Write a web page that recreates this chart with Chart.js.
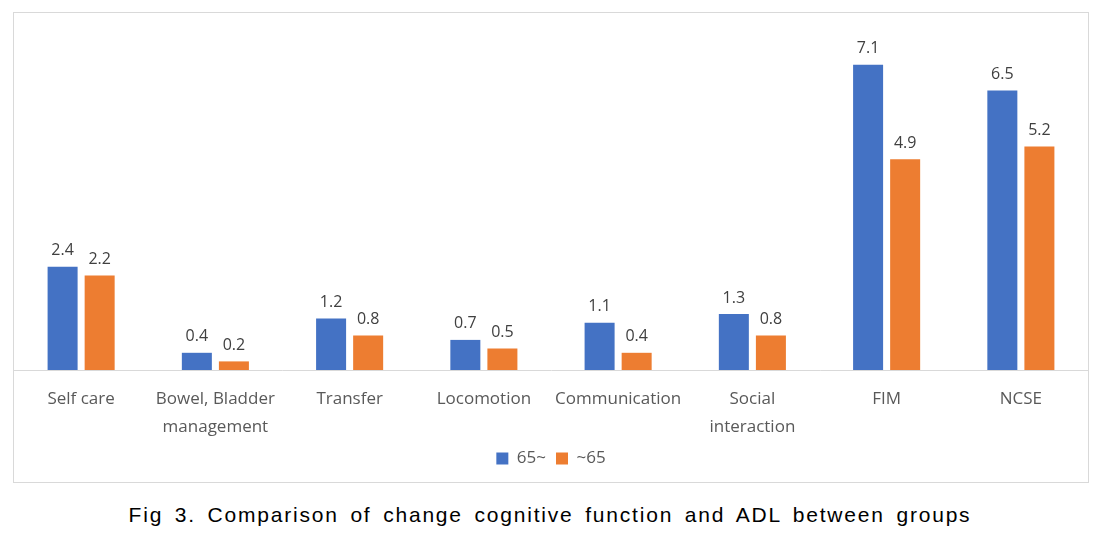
<!DOCTYPE html>
<html>
<head>
<meta charset="utf-8">
<script src="https://cdn.jsdelivr.net/npm/chart.js@4"></script>
<style>
  html, body { margin: 0; padding: 0; background: #fff; }
  body { width: 1100px; height: 542px; position: relative; overflow: hidden; }
  #frame {
    position: absolute; left: 13px; top: 12px; width: 1074px; height: 469px;
    border: 1px solid #d9d9d9;
  }
  #frame canvas { display: block; }
  #caption {
    position: absolute; left: 0; width: 1100px; top: 503px; text-align: center;
    font-family: "Liberation Sans", Arial, sans-serif; font-size: 21px;
    letter-spacing: 1.8px; word-spacing: 4px; color: #000;
  }
</style>
</head>
<body>
<div id="frame"><canvas id="chart" width="1074" height="469"></canvas></div>
<div id="caption">Fig 3. Comparison of change cognitive function and ADL between groups</div>
<script>
  var CATEGORIES = [
    'Self care', ['Bowel, Bladder', 'management'], 'Transfer', 'Locomotion',
    'Communication', ['Social', 'interaction'], 'FIM', 'NCSE'
  ];
  var SERIES_NAMES = ['65~', '~65'];
  var OVER_65 = [2.4, 0.4, 1.2, 0.7, 1.1, 1.3, 7.1, 6.5];
  var UNDER_65 = [2.2, 0.2, 0.8, 0.5, 0.4, 0.8, 4.9, 5.2];

  var BLUE = '#4472C4';
  var ORANGE = '#ED7D31';
  var FONT = '"Open Sans", "Noto Sans", sans-serif';

  // value labels above each bar, like the Office chart
  var valueLabels = {
    id: 'valueLabels',
    afterDatasetsDraw: function (chart) {
      var ctx = chart.ctx;
      ctx.save();
      ctx.font = '16px ' + FONT;
      ctx.fillStyle = '#404040';
      ctx.textAlign = 'center';
      ctx.textBaseline = 'bottom';
      chart.data.datasets.forEach(function (ds, i) {
        chart.getDatasetMeta(i).data.forEach(function (bar, j) {
          ctx.fillText(ds.data[j].toFixed(1), bar.x, bar.y - 8);
        });
      });
      ctx.restore();
    }
  };

  new Chart(document.getElementById('chart'), {
    type: 'bar',
    data: {
      labels: CATEGORIES,
      datasets: [
        { label: SERIES_NAMES[0], data: OVER_65, backgroundColor: BLUE,
          categoryPercentage: 0.552, barPercentage: 0.81 },
        { label: SERIES_NAMES[1], data: UNDER_65, backgroundColor: ORANGE,
          categoryPercentage: 0.552, barPercentage: 0.81 }
      ]
    },
    options: {
      responsive: false,
      animation: false,
      layout: { padding: { top: 13, left: 0, right: 0, bottom: 5 } },
      scales: {
        x: {
          grid: { display: false, drawTicks: false },
          border: { display: true, color: '#d9d9d9', width: 1 },
          ticks: {
            color: '#595959', padding: 16, maxRotation: 0, autoSkip: false,
            font: { family: FONT, size: 17, lineHeight: 1.6 }
          },
          afterFit: function (scale) { scale.height = 70; }
        },
        y: { display: false, min: 0, max: 8 }
      },
      plugins: {
        legend: {
          position: 'bottom',
          labels: {
            color: '#595959', boxWidth: 12, boxHeight: 12, padding: 10,
            font: { family: FONT, size: 17 }
          }
        },
        tooltip: { enabled: false }
      }
    },
    plugins: [valueLabels]
  });
</script>
</body>
</html>
